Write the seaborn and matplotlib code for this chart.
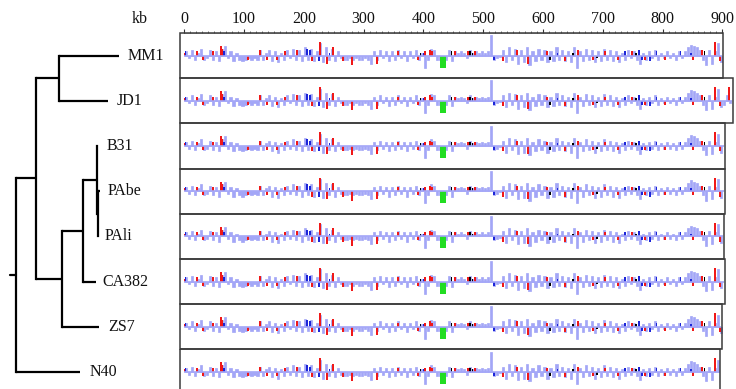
import numpy as np
import matplotlib
matplotlib.use("Agg")
import matplotlib.pyplot as plt
import seaborn as sns
from matplotlib.patches import Rectangle

sns.set_theme(style="white")
plt.rcParams['font.family'] = ['Liberation Serif', 'DejaVu Serif']

# ---------------- data ----------------
strains = ["MM1", "JD1", "B31", "PAbe", "PAli", "CA382", "ZS7", "N40"]
genome_kb = [901, 918, 904, 904, 903, 904, 899, 896]
tick_kb = [0, 100, 200, 300, 400, 500, 600, 700, 800, 900]
tick_labels = ["0", "100", "200", "300", "400", "500", "600", "700", "800", "900"]

bin_kb = 5
signal_000 = [3, -2, 4, -3, 2, 5, -3, -2, 4, -3, 3, -4, 5, 7, -2, 3, -4, 2, -3, -4]
signal_100 = [-3, -2, -3, -2, -3, 4, -3, 2, 4, -4, 3, -5, 2, -3, 4, -2, 5, -3, 4, -4]
signal_200 = [6, -3, 5, -4, 3, 9, -5, 6, -3, 5, -4, 3, -2, -3, -3, -2, -3, -2, -3, -3]
signal_300 = [-2, -3, -6, 3, -3, 4, -2, 3, -4, 3, -3, 4, -2, 3, -4, 3, -2, 4, -3, 2]
signal_400 = [-9, -3, 5, 4, -3, -3, -3, -3, 4, -4, 3, 2, 3, 2, -2, 4, 2, 3, 2, 3]
signal_500 = [2, 3, 20, -3, -2, -1, 4, -5, 6, -3, 5, -6, 4, -5, 6, -7, 3, -4, 5, -3]
signal_600 = [4, -5, 3, -4, 6, -3, 4, -4, 3, -5, 6, -9, 3, -4, 5, -3, 4, -5, 3, -4]
signal_700 = [5, -3, 4, -4, 3, -5, 2, -3, 4, -2, 3, -3, -6, 2, -3, 3, -2, 4, -3, 2]
signal_800 = [-2, 3, -2, 2, -3, 3, -2, 3, 6, 8, 7, 6, 4, -3, -7, 4, -6, 3, 9, -5]
jd1_extra_signal = [-3, 4, -2]          # bins 900-915 kb, JD1 only

red_kb = [1, 21, 32, 48, 62, 64, 107, 127, 139, 155, 169, 189, 206, 214, 227, 239, 249,
          266, 281, 322, 357, 391, 403, 411, 415, 453, 475, 486, 533, 556, 575, 607, 637,
          659, 684, 704, 726, 749, 771, 804, 851, 866, 888, 896]
red_val = [2, 3, -3, 3, 7, 5, -3, 4, -3, -3, 3, 4, 5, -4, 10, -6, 6,
           -4, -7, -6, 3, -3, 3, 4, 3, 3, 3, 3, -4, 4, -6, 3, -4,
           4, -3, 3, -3, 3, -3, -3, -3, 4, 10, -4]
jd1_extra_red_kb = [911]
jd1_extra_red_val = [10]
blue_kb = [2, 67, 205, 210, 225, 243, 400, 518, 624, 737, 760, 765, 779, 790, 830, 848]
blue_val = [3, 3, 5, 4, -4, 2, 2, -3, 2, 3, 4, -3, -4, 3, 3, 2]
black_kb = [395, 447, 478, 482, 612, 650, 690, 755, 870]
black_val = [2, 3, 3, 2, -3, 2, -2, 2, 3]
green_kb = [433]
green_val = [-9]
green_width_kb = 10

# tree (x = branch depth in px, leaves in strain order)
leaf_depth = {"MM1": 119, "JD1": 108, "B31": 97, "PAbe": 99.5, "PAli": 98,
              "CA382": 96, "ZS7": 99, "N40": 80}
internal = {"MJ": (59, ["MM1", "JD1"]),
            "PP": (98, ["PAbe", "PAli"]),
            "BPP": (96.5, ["B31", "PP"]),
            "C": (83, ["BPP", "CA382"]),
            "CZ": (62, ["C", "ZS7"]),
            "BIG": (36, ["MJ", "CZ"]),
            "ROOT": (16, ["BIG", "N40"])}
label_offset = {"MM1": 9, "JD1": 9, "B31": 10, "PAbe": 8, "PAli": 7,
                "CA382": 6, "ZS7": 9, "N40": 10}

# ---------------- layout ----------------
W, H = 736, 389
fig = plt.figure(figsize=(W / 100, H / 100), dpi=100)
ax_tree = fig.add_axes([0, 0, 1, 1])
ax_trk = fig.add_axes([0, 0, 1, 1])
for a in (ax_tree, ax_trk):
    a.set_axis_off()
    a.patch.set_alpha(0)
ax_tree.set_xlim(0, W)
ax_tree.set_ylim(H, 0)

px_per_kb = 0.598
kb0_px = 184.2
ax_trk.set_xlim(-kb0_px / px_per_kb, (W - kb0_px) / px_per_kb)
ax_trk.set_ylim(H, 0)

row0, row_step = 55.5, 45.2
half = row_step / 2
left_kb = -7
amp = 1.35   # px per signal unit

lightblue = "#a3a6f7"
red = "#f01818"
blue = "#1c25d8"
green = "#22dd22"

signal = np.array(signal_000 + signal_100 + signal_200 + signal_300 + signal_400 +
                  signal_500 + signal_600 + signal_700 + signal_800, dtype=float)
centers = np.arange(len(signal)) * bin_kb + bin_kb / 2

for i, (name, L) in enumerate(zip(strains, genome_kb)):
    yc = row0 + i * row_step
    sig = signal.copy()
    cen = centers.copy()
    if name == "JD1":
        sig = np.concatenate([sig, jd1_extra_signal])
        cen = np.arange(len(sig)) * bin_kb + bin_kb / 2
    m = cen < L
    ax_trk.bar(cen[m], -amp * np.minimum(sig[m], 15), bottom=yc, width=bin_kb * 0.7,
               color=lightblue, linewidth=0.5, edgecolor=lightblue)
    ax_trk.hlines(yc, 0, L - 2, color=lightblue, linewidth=1.2)
    rk, rv = list(red_kb), list(red_val)
    if name == "JD1":
        rk += jd1_extra_red_kb
        rv += jd1_extra_red_val
    rk, rv = np.array(rk), np.array(rv)
    mm = rk < L
    ax_trk.bar(rk[mm], -amp * rv[mm], bottom=yc, width=3.2, color=red, linewidth=0)
    ax_trk.bar(blue_kb, -amp * np.array(blue_val), bottom=yc, width=2.8, color=blue, linewidth=0)
    ax_trk.bar(black_kb, -amp * np.array(black_val), bottom=yc, width=2.8, color="black", linewidth=0)
    ax_trk.bar(green_kb, -amp * np.array(green_val), bottom=yc, width=green_width_kb,
               color=green, linewidth=0)
    top = yc - half
    bot = yc + half
    ax_trk.add_patch(Rectangle((left_kb, top), L - left_kb, bot - top, fill=False,
                               edgecolor="#3a3a3a", linewidth=1.1, zorder=5))

# ruler
ruler_y = 33
minor = np.arange(0, 901, 10)
ax_trk.vlines(minor, ruler_y - 2.5, ruler_y, color="#555555", linewidth=0.6)
ax_trk.vlines(tick_kb, ruler_y - 4, ruler_y, color="#333333", linewidth=0.8)
ax_trk.hlines(ruler_y, 0, 900, color="#888888", linewidth=0.4)
for k, lab in zip(tick_kb, tick_labels):
    ax_trk.text(k, 19, lab, ha="center", va="center", fontsize=11.5, color="#111111")
ax_tree.text(140, 19, "kb", ha="center", va="center", fontsize=11.5, color="#111111")

# tree
leaf_y = {n: row0 + i * row_step for i, n in enumerate(strains)}
node_y = {}

def get_y(n):
    if n in leaf_y:
        return leaf_y[n]
    if n in node_y:
        return node_y[n]
    x, ch = internal[n]
    ys = [get_y(c) for c in ch]
    node_y[n] = (ys[0] + ys[-1]) / 2
    return node_y[n]

def depth(n):
    return leaf_depth[n] if n in leaf_depth else internal[n][0]

lw = 1.6
for n, (x, ch) in internal.items():
    ys = [get_y(c) for c in ch]
    ax_tree.plot([x, x], [min(ys), max(ys)], color="black", lw=lw, solid_capstyle="projecting")
    for c in ch:
        ax_tree.plot([x, depth(c)], [get_y(c), get_y(c)], color="black", lw=lw,
                     solid_capstyle="butt")
root_x = internal["ROOT"][0]
ax_tree.plot([root_x - 6, root_x], [get_y("ROOT"), get_y("ROOT")], color="black", lw=lw)

for n in strains:
    ax_tree.text(leaf_depth[n] + label_offset[n], leaf_y[n], n, ha="left", va="center",
                 fontsize=11.5, color="#111111")

fig.savefig("out.png", dpi=100)
